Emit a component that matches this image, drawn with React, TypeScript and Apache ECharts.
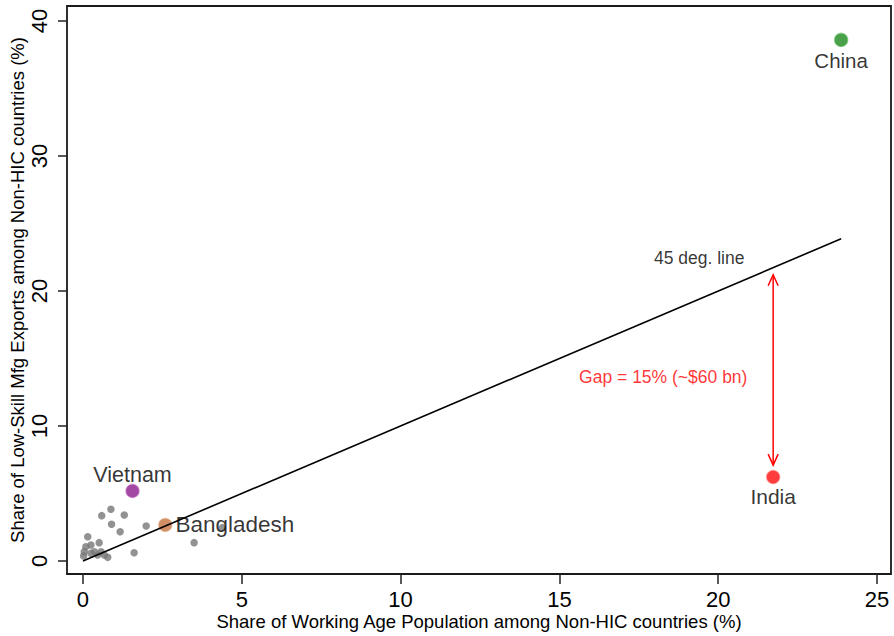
import React, { useEffect, useRef } from 'react';
import * as echarts from 'echarts';

const xTicks = [0, 5, 10, 15, 20, 25];
const yTicks = [0, 10, 20, 30, 40];

const otherX = [0.59, 0.88, 1.30, 0.90, 1.17, 1.99, 3.50, 1.61, 0.15, 0.51, 0.25, 0.04, 0.09, 0.36, 0.46, 0.67, 0.78, 0.02, 0.25, 0.57, 4.39];
const otherY = [3.36, 3.83, 3.41, 2.72, 2.17, 2.59, 1.36, 0.61, 1.80, 1.36, 1.19, 0.69, 1.06, 0.69, 0.44, 0.44, 0.27, 0.37, 0.57, 0.69, 2.47];

const highlightNames = ['China', 'India', 'Vietnam', 'Bangladesh'];
const highlightX = [23.87, 21.73, 1.56, 2.59];
const highlightY = [38.6, 6.22, 5.19, 2.67];

const diagFrom = [0, 0];
const diagTo = [23.87, 23.87];

const gapX = 21.73;
const gapFrom = 7.1;
const gapTo = 21.2;

const noteTexts = ['45 deg. line', 'Gap = 15% (~$60 bn)'];
const noteX = [19.4, 18.27];
const noteY = [22.44, 13.63];

const FONT = '"Liberation Sans", Arial, Helvetica, sans-serif';

export default function App() {
  const ref = useRef<HTMLDivElement>(null);
  useEffect(() => {
    if (!ref.current) return;
    const chart = echarts.init(ref.current, undefined, { renderer: 'svg' });

    const hlStyle: Record<string, any> = {
      China: { color: '#1e8a1e', border: 'rgba(60,170,60,0.55)', pos: 'bottom', dist: 3, size: 20.5 },
      India: { color: '#ff0d0d', border: 'rgba(255,80,80,0.55)', pos: 'bottom', dist: 2, size: 21 },
      Vietnam: { color: '#8c1a8c', border: 'rgba(180,80,180,0.6)', pos: 'top', dist: -2, size: 21.5 },
      Bangladesh: { color: '#c4733f', border: 'rgba(220,150,110,0.6)', pos: 'right', dist: 3, size: 22.5 },
    };

    const hlData = highlightNames.map((n, i) => ({
      name: n,
      value: [highlightX[i], highlightY[i]],
      itemStyle: { color: hlStyle[n].color, borderColor: hlStyle[n].border, borderWidth: 1.5 },
      label: {
        show: true,
        position: hlStyle[n].pos,
        distance: hlStyle[n].dist,
        formatter: '{b}',
        fontSize: hlStyle[n].size,
        color: '#000',
        fontFamily: FONT,
      },
    }));

    const option: any = {
      animation: false,
      backgroundColor: '#fff',
      grid: {
        left: 66, top: 6, right: 3, bottom: 62,
        show: true, borderColor: '#1a1a1a', borderWidth: 1.8, backgroundColor: '#fff',
      },
      xAxis: {
        type: 'value', min: -0.503, max: 25.44,
        axisLine: { show: false, onZero: false },
        splitLine: { show: false },
        axisTick: { show: true, length: 10, inside: false, customValues: xTicks, lineStyle: { color: '#222', width: 1.5 } },
        axisLabel: { customValues: xTicks, fontSize: 22, color: '#000', margin: 14, fontFamily: FONT },
        name: 'Share of Working Age Population among Non-HIC countries (%)',
        nameLocation: 'middle', nameGap: 38, nameMoveOverlap: false,
        nameTextStyle: { fontSize: 18.5, color: '#000', fontFamily: FONT },
      },
      yAxis: {
        type: 'value', min: -0.963, max: 41.11,
        axisLine: { show: false, onZero: false },
        splitLine: { show: false },
        axisTick: { show: true, length: 9, inside: false, customValues: yTicks, lineStyle: { color: '#222', width: 1.5 } },
        axisLabel: { customValues: yTicks, fontSize: 22, color: '#000', margin: 17, rotate: 90, fontFamily: FONT },
        name: 'Share of Low-Skill Mfg Exports among Non-HIC countries (%)',
        nameLocation: 'middle', nameGap: 40, nameMoveOverlap: false,
        nameTextStyle: { fontSize: 18.5, color: '#000', fontFamily: FONT },
      },
      series: [
        {
          type: 'scatter', z: 2,
          symbolSize: 7.5,
          itemStyle: { color: '#777' },
          data: otherX.map((x, i) => [x, otherY[i]]),
        },
        {
          type: 'scatter', z: 3,
          symbolSize: 13,
          data: hlData,
        },
        {
          type: 'line', z: 4,
          symbol: 'none',
          lineStyle: { color: '#000', width: 1.6 },
          data: [diagFrom, diagTo],
        },
        {
          type: 'custom', z: 5,
          encode: { x: 0, y: [1, 2] },
          renderItem: (params: any, api: any) => {
            const x = api.value(0);
            const a = api.coord([x, api.value(1)]);
            const b = api.coord([x, api.value(2)]);
            const style = { stroke: '#ff0000', lineWidth: 1.5, fill: 'none' };
            return {
              type: 'group',
              children: [
                { type: 'line', shape: { x1: a[0], y1: a[1], x2: b[0], y2: b[1] }, style },
                { type: 'polyline', shape: { points: [[b[0] - 5, b[1] + 11], [b[0], b[1]], [b[0] + 5, b[1] + 11]] }, style },
                { type: 'polyline', shape: { points: [[a[0] - 5, a[1] - 11], [a[0], a[1]], [a[0] + 5, a[1] - 11]] }, style },
              ],
            };
          },
          data: [[gapX, gapFrom, gapTo]],
        },
        {
          type: 'scatter', z: 6,
          symbolSize: 0,
          data: noteTexts.map((t, i) => ({
            name: t,
            value: [noteX[i], noteY[i]],
            label: {
              show: true, position: 'inside', formatter: '{b}',
              fontSize: 17.5,
              color: i === 0 ? '#000' : '#ff0000',
              fontFamily: FONT,
            },
          })),
        },
      ],
    };
    chart.setOption(option);
    return () => chart.dispose();
  }, []);
  return <div ref={ref} style={{ position: 'absolute', left: 0, top: 0, width: 894, height: 636 }} />;
}
